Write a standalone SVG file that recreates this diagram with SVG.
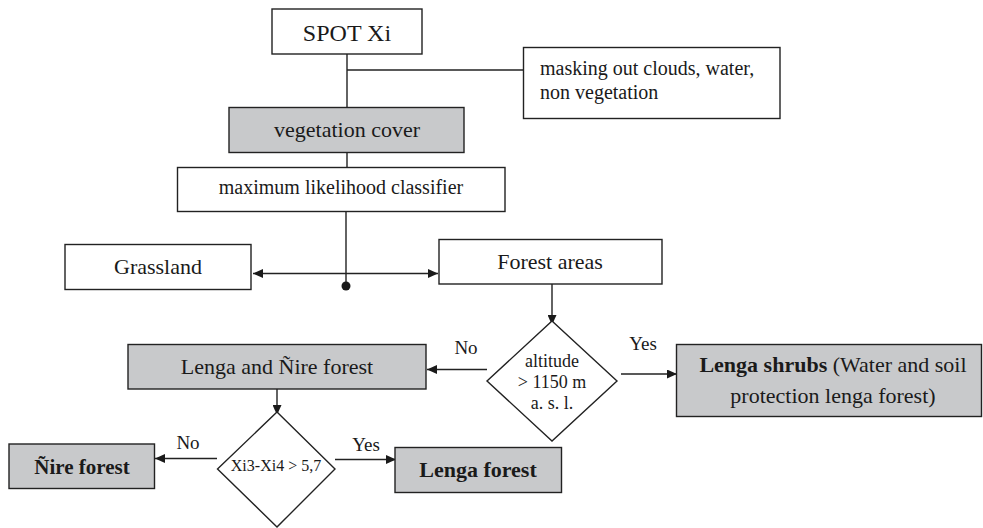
<svg xmlns="http://www.w3.org/2000/svg" width="983" height="528" viewBox="0 0 983 528">
<style>
.box{fill:#ffffff;stroke:#222;stroke-width:1.4}
.grey{fill:#c8c9cb;stroke:#222;stroke-width:1.4}
.t{font-family:"Liberation Serif","Times New Roman",serif;fill:#1a1a1a}
.c{text-anchor:middle}
.b{font-weight:bold}
.ln{fill:none;stroke:#222;stroke-width:1.4}
</style>
<defs>
<marker id="ah" markerUnits="userSpaceOnUse" markerWidth="11" markerHeight="9" refX="10" refY="4.5" orient="auto">
<path d="M0,0 L10,4.5 L0,9 z" fill="#1a1a1a"/>
</marker>
</defs>
<rect width="983" height="528" fill="#ffffff"/>

<g id="connectors">
<line class="ln" x1="347" y1="48" x2="347" y2="119" marker-end="url(#ah)"/>
<line class="ln" x1="347" y1="70" x2="523" y2="70"/>
<line class="ln" x1="347" y1="145" x2="347" y2="181" marker-end="url(#ah)"/>
<line class="ln" x1="346" y1="212" x2="346" y2="286"/>
<circle cx="346" cy="286" r="4.5" fill="#1a1a1a"/>
<line class="ln" x1="346" y1="273.5" x2="253" y2="273.5" marker-end="url(#ah)"/>
<line class="ln" x1="346" y1="273.5" x2="438" y2="273.5" marker-end="url(#ah)"/>
<line class="ln" x1="552" y1="284" x2="552" y2="325" marker-end="url(#ah)"/>
<line class="ln" x1="487" y1="369.5" x2="427" y2="369.5" marker-end="url(#ah)"/>
<text class="t c" x="466" y="354" font-size="19">No</text>
<line class="ln" x1="621" y1="374" x2="677" y2="374" marker-end="url(#ah)"/>
<text class="t c" x="643" y="350" font-size="19">Yes</text>
<line class="ln" x1="277" y1="384" x2="277" y2="415" marker-end="url(#ah)"/>
<line class="ln" x1="217" y1="458.5" x2="155" y2="458.5" marker-end="url(#ah)"/>
<text class="t c" x="188" y="449" font-size="19">No</text>
<line class="ln" x1="335" y1="459.5" x2="396" y2="459.5" marker-end="url(#ah)"/>
<text class="t c" x="366" y="451" font-size="19">Yes</text>
</g>

<g id="spot">
<rect class="box" x="272" y="9" width="150" height="45"/>
<text class="t c" x="347" y="41" font-size="24">SPOT Xi</text>
</g>

<g id="masking">
<rect class="box" x="523.5" y="47.5" width="256.5" height="71"/>
<text class="t" x="540" y="75" font-size="20">masking out clouds, water,</text>
<text class="t" x="540" y="99" font-size="20">non vegetation</text>
</g>

<g id="vegetation">
<rect class="grey" x="229" y="107.5" width="235" height="45"/>
<text class="t c" x="347" y="137" font-size="22">vegetation cover</text>
</g>

<g id="classifier">
<rect class="box" x="177.5" y="167.5" width="327.5" height="44"/>
<text class="t c" x="341" y="194" font-size="20">maximum likelihood classifier</text>
</g>

<g id="grassland">
<rect class="box" x="65" y="244.5" width="186" height="45"/>
<text class="t c" x="158" y="274" font-size="22">Grassland</text>
</g>

<g id="forest-areas">
<rect class="box" x="439" y="239.5" width="223" height="44.5"/>
<text class="t c" x="550" y="269" font-size="22">Forest areas</text>
</g>

<g id="altitude">
<polygon class="box" points="552,321 617,381 552,441 487,381"/>
<text class="t c" x="552" y="367" font-size="18">altitude</text>
<text class="t c" x="552" y="388" font-size="18">&gt; 1150 m</text>
<text class="t c" x="552" y="409" font-size="18">a. s. l.</text>
</g>

<g id="lenga-shrubs">
<rect class="grey" x="676.5" y="344.5" width="305" height="72"/>
<text class="t c" x="833" y="371.5" font-size="22"><tspan class="b">Lenga shrubs</tspan> (Water and soil</text>
<text class="t c" x="833" y="403" font-size="22">protection lenga forest)</text>
</g>

<g id="lenga-nire">
<rect class="grey" x="128" y="344.5" width="298" height="44.5"/>
<text class="t c" x="277" y="374" font-size="22">Lenga and Ñire forest</text>
</g>

<g id="xi-decision">
<polygon class="box" points="277,412 335,469 277,527 217.5,469"/>
<text class="t c" x="276" y="471" font-size="16">Xi3-Xi4 &gt; 5,7</text>
</g>

<g id="nire-forest">
<rect class="grey" x="9" y="444" width="145.5" height="44.5"/>
<text class="t c b" x="82" y="474" font-size="21">Ñire forest</text>
</g>

<g id="lenga-forest">
<rect class="grey" x="395" y="447.5" width="166.5" height="45"/>
<text class="t c b" x="478" y="477" font-size="22">Lenga forest</text>
</g>
</svg>
